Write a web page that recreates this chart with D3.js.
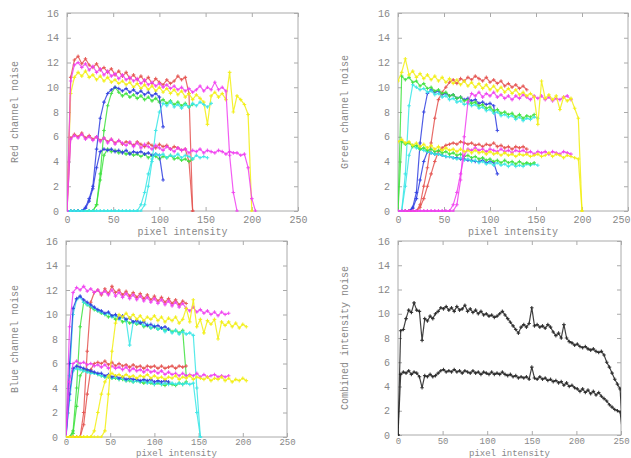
<!DOCTYPE html>
<html>
<head>
<meta charset="utf-8">
<script src="https://cdn.jsdelivr.net/npm/d3@7"></script>
<style>
body { margin: 0; background: #fff; }
svg text { font-family: "Liberation Mono", "DejaVu Sans Mono", monospace; }
</style>
</head>
<body>
<svg id="chart"></svg>
<script>
let width = 631,
  height = 458;

// x ticks / y ticks shared by all four plots
const xTicks = [0, 50, 100, 150, 200, 250];
const yTicks = [0, 2, 4, 6, 8, 10, 12, 14, 16];
const xLabel = "pixel intensity";

// colour series are sampled every 4 intensity levels starting at 0,
// the combined series every 3 levels
const STEP = 4;
const STEP_COMBINED = 3;

// ---- Red channel ----
const rRedHi = [0, 10.8, 12.2, 12.5, 11.9, 12.3, 11.8, 11.6, 11.9, 11.4, 11.6, 11.2, 11.5, 11.0, 11.3, 10.9, 11.2, 10.7, 11.0, 10.6, 10.9, 10.5, 10.8, 10.3, 10.7, 10.4, 10.2, 10.6, 10.3, 10.5, 10.9, 10.6, 10.8, 9.5, 0];
const rRedLo = [0, 5.9, 6.2, 6.0, 6.3, 5.9, 6.1, 5.8, 6.0, 5.7, 5.9, 5.6, 5.8, 5.5, 5.7, 5.4, 5.6, 5.5, 5.3, 5.6, 5.4, 5.2, 5.5, 5.3, 5.1, 5.4, 5.2, 5.3, 5.0, 5.2, 5.1, 4.9, 5.0, 4.0, 0];
const rYellowHi = [0, 9.5, 10.8, 11.2, 10.9, 11.3, 10.8, 11.0, 10.6, 10.9, 10.5, 10.8, 10.4, 10.6, 10.3, 10.5, 10.2, 10.4, 10.0, 10.3, 9.9, 10.2, 9.8, 10.1, 9.7, 10.0, 9.6, 9.9, 9.5, 9.8, 9.4, 9.7, 9.2, 9.5, 9.0, 9.4, 9.1, 8.8, 7.0, 9.3, 9.6, 9.2, 9.5, 9.0, 11.2, 8.0, 9.3, 9.0, 8.6, 7.8, 0];
const rGreenHi = [0, 0, 0, 0, 0, 0, 0, 0, 0.5, 3.0, 6.5, 8.5, 9.5, 10.0, 9.6, 9.3, 9.5, 9.2, 9.4, 9.1, 9.3, 9.0, 9.2, 8.9, 9.1, 8.8, 9.0, 8.7, 8.9, 8.6, 8.8, 8.5, 8.7, 8.4, 8.6];
const rGreenLo = [0, 0, 0, 0, 0, 0, 0, 0, 0.5, 2.5, 4.5, 5.0, 4.8, 4.9, 4.7, 4.8, 4.6, 4.7, 4.5, 4.6, 4.4, 4.6, 4.3, 4.5, 4.4, 4.2, 4.4, 4.3, 4.5, 4.2, 4.3, 4.1, 4.2, 4.0, 4.2];
const rBlueHi = [0, 0, 0, 0, 0, 0.3, 1.0, 2.0, 5.0, 7.5, 8.8, 9.5, 9.8, 10.0, 9.9, 9.7, 9.9, 9.6, 9.8, 9.5, 9.7, 9.4, 9.6, 9.3, 9.5, 9.2, 6.8];
const rBlueLo = [0, 0, 0, 0, 0, 0.2, 0.8, 1.8, 3.5, 4.8, 5.0, 4.9, 5.0, 4.8, 4.9, 4.7, 4.9, 4.6, 4.8, 4.7, 4.8, 4.6, 4.7, 4.5, 4.6, 4.5, 2.5];
const rCyanHi = [0, 0, 0, 0, 0, 0, 0, 0, 0, 0, 0, 0, 0, 0, 0, 0, 0, 0, 0, 0, 0, 0.5, 2.0, 4.0, 6.5, 8.0, 8.7, 8.5, 8.8, 8.4, 8.6, 8.3, 8.6, 8.4, 8.7, 8.5, 8.8, 8.6, 8.4, 8.7];
const rCyanLo = [0, 0, 0, 0, 0, 0, 0, 0, 0, 0, 0, 0, 0, 0, 0, 0, 0, 0, 0, 0, 0.5, 1.5, 3.0, 4.2, 4.6, 4.5, 4.6, 4.3, 4.5, 4.4, 4.6, 4.3, 4.5, 4.4, 4.2, 4.5, 4.3, 4.4, 4.3];
const rMagentaHi = [0, 10.5, 11.8, 12.0, 11.6, 11.9, 11.4, 11.7, 11.2, 11.5, 11.0, 11.3, 10.9, 11.1, 10.7, 11.0, 10.6, 10.8, 10.5, 10.7, 10.3, 10.6, 10.2, 10.4, 10.1, 10.3, 10.0, 10.2, 9.9, 10.1, 9.8, 10.0, 9.7, 9.9, 9.6, 9.8, 10.1, 9.7, 10.0, 9.8, 10.4, 9.8, 10.0, 9.7, 4.5, 1.5, 0];
const rMagentaLo = [0, 5.8, 6.1, 5.9, 6.2, 5.8, 6.0, 5.7, 6.0, 5.6, 5.9, 5.5, 5.8, 5.4, 5.7, 5.5, 5.3, 5.6, 5.2, 5.5, 5.1, 5.4, 5.2, 5.0, 5.3, 5.1, 4.9, 5.2, 5.0, 4.8, 5.1, 4.9, 5.0, 4.7, 4.9, 4.8, 5.0, 4.7, 4.9, 4.8, 4.7, 4.9, 4.8, 4.6, 4.8, 4.7, 4.7, 4.5, 4.6, 3.5, 1.0, 0];

// ---- Green channel ----
const gBlueHi = [0, 0, 0, 0, 0.3, 1.5, 5.5, 8.0, 9.5, 9.8, 9.6, 9.7, 9.4, 9.5, 9.3, 9.4, 9.1, 9.2, 9.0, 9.1, 8.9, 9.0, 8.7, 8.8, 8.6, 8.7, 8.5, 6.5];
const gBlueLo = [0, 0, 0, 0, 0.2, 1.0, 2.5, 4.0, 4.8, 4.7, 4.6, 4.6, 4.5, 4.4, 4.4, 4.3, 4.3, 4.2, 4.2, 4.1, 4.1, 4.0, 4.0, 4.1, 3.9, 4.0, 3.9, 3.0];
const gRedHi = [0, 0, 0, 0, 0, 0, 0.5, 2.0, 3.5, 5.5, 7.5, 9.0, 9.6, 10.0, 10.4, 10.6, 10.3, 10.7, 10.5, 10.8, 10.6, 10.9, 10.7, 10.5, 10.8, 10.4, 10.6, 10.3, 10.5, 10.1, 10.3, 10.0, 10.2, 9.9, 10.1, 9.8];
const gRedLo = [0, 0, 0, 0, 0, 0, 0.3, 1.0, 2.0, 3.0, 4.0, 4.8, 5.1, 5.3, 5.4, 5.5, 5.4, 5.6, 5.5, 5.4, 5.5, 5.3, 5.4, 5.2, 5.4, 5.3, 5.5, 5.2, 5.3, 5.1, 5.2, 5.0, 5.2, 5.1, 5.2, 5.0];
const gCyanHi = [0, 0, 3.0, 8.5, 10.2, 10.0, 9.8, 9.9, 9.6, 9.7, 9.4, 9.5, 9.2, 9.3, 9.0, 9.1, 8.8, 8.9, 8.6, 8.7, 8.5, 8.6, 8.3, 8.4, 8.1, 8.2, 7.9, 8.0, 7.7, 7.8, 7.6, 7.7, 7.4, 7.6, 7.3, 7.5, 7.4, 7.6, 7.5];
const gCyanLo = [0, 0, 2.0, 4.5, 5.3, 5.1, 5.0, 4.9, 4.8, 4.7, 4.6, 4.6, 4.5, 4.4, 4.4, 4.3, 4.2, 4.3, 4.1, 4.2, 4.0, 4.1, 3.9, 4.0, 3.8, 3.9, 3.7, 3.9, 3.7, 3.8, 3.6, 3.8, 3.6, 3.7, 3.6, 3.8, 3.7, 3.8, 3.7];
const gGreenHi = [0, 10.9, 10.6, 10.8, 10.4, 10.5, 10.1, 10.3, 9.9, 10.0, 9.7, 9.8, 9.5, 9.6, 9.3, 9.4, 9.1, 9.2, 8.9, 9.0, 8.7, 8.8, 8.5, 8.6, 8.3, 8.4, 8.1, 8.2, 7.9, 8.0, 7.8, 7.9, 7.6, 7.8, 7.5, 7.7, 7.6, 7.8];
const gGreenLo = [0, 5.6, 5.4, 5.5, 5.2, 5.3, 5.0, 5.1, 4.9, 5.0, 4.8, 4.9, 4.7, 4.8, 4.6, 4.7, 4.5, 4.6, 4.4, 4.5, 4.3, 4.4, 4.2, 4.3, 4.1, 4.2, 4.0, 4.1, 3.9, 4.1, 3.9, 4.0, 3.8, 4.0, 3.8, 3.9, 3.8, 3.9];
const gMagentaHi = [0, 0, 0, 0, 0, 0, 0, 0, 0, 0, 0, 0, 0, 0, 0, 0, 0.5, 2.5, 6.0, 8.8, 9.5, 9.3, 9.6, 9.2, 9.5, 9.3, 9.6, 9.2, 9.4, 9.1, 9.3, 9.0, 9.3, 9.1, 9.4, 9.2, 9.0, 9.3, 9.1, 9.3, 9.0, 9.2, 8.9, 9.1, 9.0, 9.2, 9.3, 9.0];
const gMagentaLo = [0, 0, 0, 0, 0, 0, 0, 0, 0, 0, 0, 0, 0, 0, 0, 0.5, 1.5, 3.0, 4.5, 5.0, 4.9, 5.1, 4.9, 5.0, 4.8, 5.0, 4.9, 4.8, 5.0, 4.8, 4.9, 4.7, 4.9, 4.8, 4.9, 4.7, 4.8, 4.6, 4.8, 4.7, 4.8, 4.6, 4.8, 4.7, 4.6, 4.8, 4.7, 4.6];
const gYellowHi = [10.5, 11.2, 12.3, 11.0, 11.3, 10.8, 11.1, 10.7, 11.0, 10.6, 10.9, 10.5, 10.8, 10.4, 10.7, 10.3, 10.6, 10.2, 10.5, 10.1, 10.4, 10.0, 10.3, 9.9, 10.2, 9.8, 10.1, 9.7, 10.0, 9.6, 9.9, 9.5, 9.8, 9.4, 9.6, 9.3, 9.5, 9.2, 7.0, 10.5, 9.1, 9.4, 9.0, 9.3, 8.2, 9.2, 8.9, 9.1, 8.3, 7.5, 0];
const gYellowLo = [5.6, 5.8, 5.5, 5.6, 5.3, 5.5, 5.2, 5.4, 5.1, 5.3, 5.0, 5.2, 4.9, 5.1, 4.9, 5.0, 4.8, 5.0, 4.8, 4.9, 4.7, 4.9, 4.7, 4.8, 4.6, 4.8, 4.6, 4.7, 4.5, 4.7, 4.5, 4.6, 4.4, 4.6, 4.5, 4.6, 4.4, 4.5, 4.6, 4.4, 4.5, 4.7, 4.4, 4.6, 4.5, 4.3, 4.5, 4.4, 4.3, 4.2, 0];

// ---- Blue channel ----
const bGreenHi = [0, 0, 0.5, 4.0, 9.0, 11.0, 10.8, 10.6, 10.4, 10.3, 10.1, 10.0, 9.8, 9.9, 9.6, 9.7, 9.4, 9.5, 9.3, 9.4, 9.2, 9.3, 9.0, 9.1, 8.9, 9.0, 8.8, 8.9, 8.7, 8.8, 8.6, 8.7, 8.5, 8.7, 5.0];
const bGreenLo = [0, 0, 0.3, 2.5, 5.0, 5.5, 5.4, 5.3, 5.2, 5.1, 5.0, 4.9, 4.9, 4.8, 4.8, 4.7, 4.7, 4.6, 4.6, 4.5, 4.6, 4.5, 4.4, 4.5, 4.4, 4.3, 4.4, 4.3, 4.2, 4.4, 4.3, 4.2, 4.4, 4.3, 4.5];
const bRedHi = [0, 0, 0, 0, 0, 2.0, 7.0, 11.0, 11.8, 12.0, 11.6, 12.1, 11.7, 12.3, 11.8, 12.0, 11.6, 11.9, 11.5, 11.8, 11.4, 11.7, 11.3, 11.6, 11.2, 11.5, 11.1, 11.4, 11.0, 11.3, 10.9, 11.2, 10.8, 11.1, 10.9];
const bRedLo = [0, 0, 0, 0, 0, 1.0, 3.5, 5.5, 6.0, 6.1, 6.0, 6.2, 5.9, 6.1, 5.8, 6.0, 5.8, 5.9, 5.7, 5.9, 5.7, 5.8, 5.6, 5.8, 5.7, 5.8, 5.6, 5.8, 5.6, 5.7, 5.8, 5.6, 5.8, 5.7, 5.8];
const bCyanHi = [0, 5.0, 10.0, 11.2, 11.4, 11.0, 10.8, 10.7, 10.5, 10.3, 10.2, 10.0, 10.1, 9.8, 9.9, 9.6, 9.8, 9.5, 7.5, 9.4, 9.3, 9.4, 9.1, 9.2, 8.9, 9.1, 8.8, 8.9, 8.6, 8.8, 8.5, 8.7, 8.4, 8.6, 8.4, 8.5, 8.3, 4.0, 0];
const bCyanLo = [0, 3.0, 5.4, 5.6, 5.5, 5.4, 5.3, 5.2, 5.2, 5.1, 5.0, 4.9, 5.0, 4.8, 4.9, 4.7, 4.8, 4.6, 4.7, 4.5, 4.6, 4.5, 4.6, 4.4, 4.5, 4.3, 4.5, 4.3, 4.4, 4.3, 4.4, 4.3, 4.4, 4.3, 4.4, 4.3, 4.4, 2.0, 0];
const bBlueHi = [0, 6.0, 10.5, 11.3, 11.5, 11.2, 11.0, 10.8, 10.6, 10.4, 10.3, 10.1, 10.2, 9.9, 10.0, 9.7, 9.9, 9.6, 9.7, 9.4, 9.5, 9.3, 9.4, 9.1, 9.2, 9.0, 9.1, 8.9, 9.0, 8.8];
const bBlueLo = [0, 3.5, 5.6, 5.8, 5.7, 5.6, 5.5, 5.4, 5.3, 5.2, 5.2, 5.0, 5.1, 4.9, 5.0, 4.8, 4.9, 4.7, 4.8, 4.7, 4.7, 4.6, 4.7, 4.6, 4.7, 4.5, 4.6, 4.5, 4.6, 4.5];
const bMagentaHi = [0, 9.0, 11.8, 12.2, 12.0, 12.3, 11.9, 12.1, 11.8, 12.0, 11.7, 11.9, 11.6, 12.0, 11.5, 11.8, 11.4, 11.7, 11.3, 11.6, 11.2, 11.5, 11.1, 11.4, 11.0, 11.3, 10.9, 11.2, 10.8, 11.1, 10.7, 11.0, 10.6, 10.9, 10.5, 10.3, 10.6, 10.2, 10.4, 10.1, 10.3, 10.0, 10.2, 9.9, 10.2, 10.0, 10.1];
const bMagentaLo = [0, 4.5, 6.0, 6.2, 6.0, 6.1, 5.9, 6.0, 5.8, 5.9, 5.7, 5.9, 5.6, 5.8, 5.6, 5.7, 5.5, 5.7, 5.4, 5.6, 5.4, 5.5, 5.3, 5.5, 5.3, 5.4, 5.2, 5.4, 5.1, 5.3, 5.1, 5.2, 5.0, 5.2, 5.0, 5.1, 5.0, 5.2, 4.9, 5.1, 4.9, 5.0, 5.1, 4.9, 5.0, 4.9, 5.0];
const bYellowHi = [0, 0, 0, 0, 0, 0, 0, 0, 0, 0, 0, 0.5, 3.5, 7.0, 9.3, 10.0, 9.8, 10.1, 9.7, 10.0, 9.6, 9.9, 9.5, 9.8, 9.6, 9.9, 9.5, 9.8, 9.4, 9.7, 9.5, 9.8, 9.3, 9.6, 10.5, 9.4, 11.2, 9.0, 9.6, 8.5, 9.5, 9.2, 9.6, 8.0, 9.4, 9.1, 9.4, 9.0, 9.3, 8.9, 9.2, 9.0];
const bYellowLo = [0, 0, 0, 0, 0, 0, 0, 0, 0.5, 2.0, 3.5, 4.5, 5.0, 5.2, 5.0, 5.1, 4.9, 5.1, 4.9, 5.0, 4.8, 5.0, 4.9, 5.1, 4.8, 5.0, 4.8, 4.9, 4.7, 4.9, 4.8, 5.0, 4.7, 4.9, 4.8, 5.0, 4.7, 4.9, 4.8, 4.7, 4.9, 4.6, 4.8, 4.7, 4.9, 4.6, 4.8, 4.5, 4.7, 4.6, 4.8, 4.6];

// ---- Combined intensity ----
const cHi = [0, 8.6, 8.7, 9.6, 10.3, 10.1, 10.9, 10.3, 10.2, 7.8, 9.6, 9.4, 9.8, 9.6, 10.0, 10.2, 10.5, 10.4, 10.6, 10.3, 10.5, 10.2, 10.6, 10.3, 10.4, 10.7, 10.2, 10.4, 10.1, 10.3, 10.0, 10.2, 9.9, 10.0, 9.8, 9.9, 9.7, 9.8, 10.0, 10.2, 9.9, 9.6, 9.3, 9.0, 8.7, 8.4, 8.9, 9.1, 8.9, 9.2, 10.5, 9.0, 9.1, 8.9, 9.0, 8.8, 9.1, 8.9, 8.5, 8.2, 8.4, 8.0, 9.1, 8.0, 7.7, 7.6, 7.4, 7.5, 7.3, 7.2, 7.3, 7.1, 7.0, 7.1, 6.9, 6.8, 6.9, 6.6, 6.0, 5.6, 5.1, 4.6, 4.2, 3.8, 0];
const cLo = [0, 5.0, 5.2, 5.1, 5.3, 5.0, 5.2, 5.1, 4.8, 3.9, 4.9, 4.8, 5.0, 4.8, 4.9, 5.1, 5.3, 5.4, 5.2, 5.3, 5.2, 5.4, 5.2, 5.3, 5.1, 5.3, 5.2, 5.1, 5.3, 5.1, 5.2, 5.0, 5.2, 5.1, 5.0, 5.2, 5.0, 5.1, 5.0, 5.2, 5.0, 4.9, 5.0, 4.8, 4.9, 4.7, 4.8, 4.7, 4.8, 4.6, 5.6, 4.7, 4.6, 4.8, 4.6, 4.7, 4.5, 4.6, 4.4, 4.5, 4.3, 4.4, 4.1, 4.3, 4.0, 4.1, 3.9, 3.8, 3.6, 3.8, 3.5, 3.7, 3.4, 3.6, 3.3, 3.5, 3.2, 3.0, 2.8, 2.5, 2.3, 2.1, 2.0, 1.9, 0];

const RED = "#e4524f", GREEN = "#3ee23e", BLUE = "#3040e0",
  MAGENTA = "#f040f0", CYAN = "#38e6e6", YELLOW = "#f2ee10", BLACK = "#222";

let svg = d3.select("#chart").attr("width", width).attr("height", height);

// the source image is a soft, downscaled scan
svg.append("defs").append("filter").attr("id", "soft")
  .append("feGaussianBlur").attr("stdDeviation", 0.45);

// bottom row has little room under it, so its axis texts are smaller
let panels = [
  { left: 67, top: 13, right: 298, bottom: 211, label: "Red channel noise", labelX: 15, step: STEP,
    font: 10, pad: 5, xLabelY: 235,
    series: [[rRedHi, RED], [rRedLo, RED], [rYellowHi, YELLOW], [rGreenHi, GREEN], [rGreenLo, GREEN],
      [rBlueHi, BLUE], [rBlueLo, BLUE], [rCyanHi, CYAN], [rCyanLo, CYAN], [rMagentaHi, MAGENTA], [rMagentaLo, MAGENTA]] },
  { left: 398, top: 13, right: 628, bottom: 211, label: "Green channel noise", labelX: 345, step: STEP,
    font: 10, pad: 5, xLabelY: 235,
    series: [[gBlueHi, BLUE], [gBlueLo, BLUE], [gRedHi, RED], [gRedLo, RED], [gCyanHi, CYAN], [gCyanLo, CYAN],
      [gGreenHi, GREEN], [gGreenLo, GREEN], [gMagentaHi, MAGENTA], [gMagentaLo, MAGENTA], [gYellowHi, YELLOW], [gYellowLo, YELLOW]] },
  { left: 66, top: 241, right: 287, bottom: 437, label: "Blue channel noise", labelX: 15, step: STEP,
    font: 9, pad: 2, xLabelY: 456,
    series: [[bGreenHi, GREEN], [bGreenLo, GREEN], [bRedHi, RED], [bRedLo, RED], [bCyanHi, CYAN], [bCyanLo, CYAN],
      [bBlueHi, BLUE], [bBlueLo, BLUE], [bMagentaHi, MAGENTA], [bMagentaLo, MAGENTA], [bYellowHi, YELLOW], [bYellowLo, YELLOW]] },
  { left: 398, top: 241, right: 621, bottom: 435, label: "Combined intensity noise", labelX: 345, step: STEP_COMBINED,
    font: 9, pad: 3, xLabelY: 456,
    series: [[cHi, BLACK], [cLo, BLACK]] },
];

let plus = "M-1.8,0H1.8M0,-1.8V1.8";

panels.forEach((p, pi) => {
  let x = d3.scaleLinear().domain([0, 250]).range([p.left, p.right]);
  let y = d3.scaleLinear().domain([0, 16]).range([p.bottom, p.top]);

  svg.append("clipPath").attr("id", "clip" + pi)
    .append("rect").attr("x", p.left).attr("y", p.top - 2)
    .attr("width", p.right - p.left).attr("height", p.bottom - p.top + 3);

  // ticks on all four sides, pointing inward
  let ax = [
    [d3.axisBottom(x).tickValues(xTicks).tickSizeInner(-4).tickSizeOuter(0).tickPadding(p.pad), `translate(0,${p.bottom})`],
    [d3.axisTop(x).tickValues(xTicks).tickSizeInner(-4).tickSizeOuter(0).tickFormat(""), `translate(0,${p.top})`],
    [d3.axisLeft(y).tickValues(yTicks).tickSizeInner(-4).tickSizeOuter(0).tickPadding(8), `translate(${p.left},0)`],
    [d3.axisRight(y).tickValues(yTicks).tickSizeInner(-4).tickSizeOuter(0).tickFormat(""), `translate(${p.right},0)`],
  ];
  ax.forEach(([a, t], ai) => {
    let g = svg.append("g").attr("transform", t).call(a);
    g.select(".domain").remove();
    g.selectAll("line").attr("stroke", "#aaa");
    g.selectAll("text").attr("fill", "#888").style("font-size", (ai == 0 ? p.font : 10) + "px")
      .style("font-family", '"Liberation Mono", monospace');
    if (ai == 0) {
      // keep the last x label inside the window
      g.selectAll("text").filter((d) => x(d) + 10 > width)
        .attr("text-anchor", "end").attr("x", (d) => width - 1 - x(d));
    }
  });

  svg.append("rect")
    .attr("x", p.left).attr("y", p.top)
    .attr("width", p.right - p.left).attr("height", p.bottom - p.top)
    .attr("fill", "none").attr("stroke", "#aaa").attr("stroke-width", 1);

  let line = d3.line()
    .x((d, i) => x(i * p.step))
    .y((d) => y(d));

  let marks = svg.append("g").attr("clip-path", `url(#clip${pi})`)
    .append("g").attr("filter", "url(#soft)");
  p.series.forEach(([vals, col]) => {
    marks.append("path")
      .attr("d", line(vals))
      .attr("fill", "none")
      .attr("stroke", col)
      .attr("stroke-width", 1.2)
      .attr("stroke-opacity", 0.85);
    marks.append("g")
      .selectAll("path")
      .data(vals)
      .enter()
      .append("path")
      .attr("transform", (d, i) => `translate(${x(i * p.step)},${y(d)})`)
      .attr("d", plus)
      .attr("stroke", col)
      .attr("stroke-width", 1.1)
      .attr("stroke-opacity", 0.85);
  });

  svg.append("text")
    .attr("transform", `translate(${p.labelX},${(p.top + p.bottom) / 2}) rotate(-90)`)
    .attr("text-anchor", "middle")
    .attr("dominant-baseline", "middle")
    .attr("fill", "#888")
    .style("font-size", "10px")
    .text(p.label);

  svg.append("text")
    .attr("x", (p.left + p.right) / 2)
    .attr("y", p.xLabelY)
    .attr("text-anchor", "middle")
    .attr("fill", "#888")
    .style("font-size", p.font + "px")
    .text(xLabel);
});
</script>
</body>
</html>
